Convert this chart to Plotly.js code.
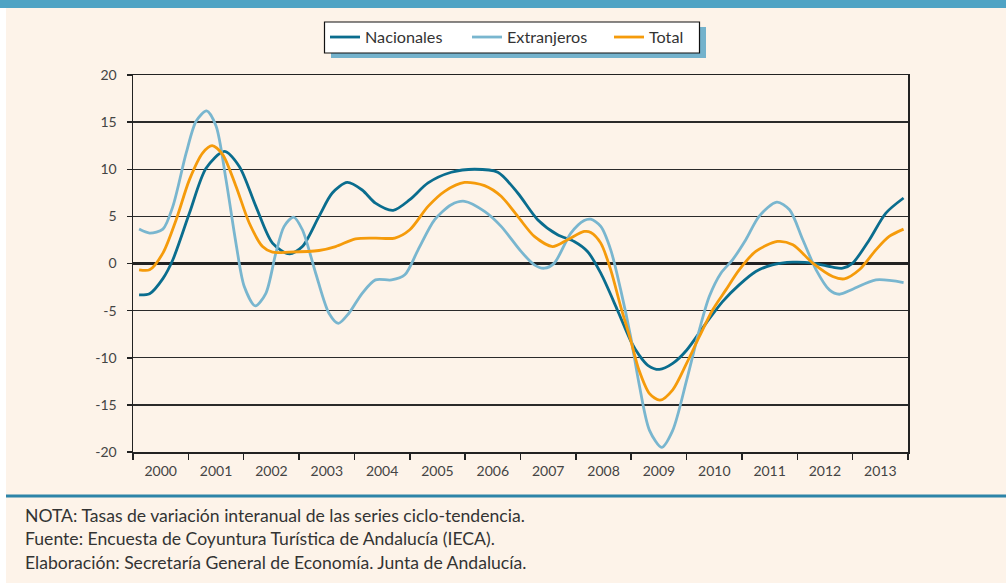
<!DOCTYPE html>
<html>
<head>
<meta charset="utf-8">
<script src="https://cdn.plot.ly/plotly-3.0.1.min.js"></script>
<style>
  html, body { margin: 0; padding: 0; background: #ffffff; }
  #chart { width: 1006px; height: 583px; }
</style>
</head>
<body>
<div id="chart"></div>
<script>
// ---- Data ----
var yearLabels = ["2000","2001","2002","2003","2004","2005","2006","2007","2008","2009","2010","2011","2012","2013"];
var yTickVals = [-20, -15, -10, -5, 0, 5, 10, 15, 20];
var yTickText = ["-20", "-15", "-10", "-5", "0", "5", "10", "15", "20"];

var nacionalesT = [2000.11, 2000.30, 2000.54, 2000.72, 2001.02, 2001.32, 2001.65, 2001.92, 2002.22, 2002.52, 2002.82, 2003.06, 2003.36, 2003.60, 2003.87, 2004.14, 2004.38, 2004.70, 2005.00, 2005.33, 2005.75, 2006.17, 2006.59, 2006.95, 2007.31, 2007.67, 2007.97, 2008.21, 2008.45, 2008.75, 2008.99, 2009.14, 2009.30, 2009.51, 2009.75, 2010.00, 2010.35, 2010.65, 2010.95, 2011.25, 2011.55, 2011.92, 2012.28, 2012.64, 2012.82, 2013.00, 2013.30, 2013.60, 2013.92];
var nacionalesV = [-3.33, -3.2, -1.6, 0.4, 5.35, 10.1, 11.9, 10.3, 6.06, 2.16, 1.03, 1.8, 5.0, 7.48, 8.6, 7.8, 6.4, 5.64, 6.77, 8.55, 9.68, 10.0, 9.68, 7.48, 4.65, 3.05, 2.34, 1.28, -1.03, -4.93, -8.2, -9.7, -10.8, -11.24, -10.6, -9.2, -6.35, -4.04, -2.27, -0.85, -0.14, 0.14, 0.04, -0.39, -0.5, 0.04, 2.5, 5.35, 6.95];

var extranjerosT = [2000.11, 2000.30, 2000.54, 2000.72, 2000.96, 2001.14, 2001.33, 2001.50, 2001.68, 2001.86, 2002.01, 2002.21, 2002.40, 2002.58, 2002.73, 2002.90, 2003.06, 2003.30, 2003.54, 2003.71, 2003.90, 2004.14, 2004.38, 2004.67, 2004.91, 2005.15, 2005.45, 2005.75, 2005.99, 2006.35, 2006.65, 2007.01, 2007.25, 2007.43, 2007.61, 2007.91, 2008.15, 2008.27, 2008.45, 2008.63, 2008.81, 2008.99, 2009.14, 2009.33, 2009.55, 2009.75, 2010.00, 2010.23, 2010.41, 2010.62, 2010.83, 2011.07, 2011.31, 2011.63, 2011.86, 2012.10, 2012.34, 2012.58, 2012.76, 2013.00, 2013.42, 2013.92];
var extranjerosV = [3.65, 3.23, 3.65, 6.06, 11.7, 15.1, 16.2, 14.6, 8.9, 2.16, -2.45, -4.5, -3.16, 1.1, 3.94, 4.93, 3.58, -1.03, -5.28, -6.35, -5.28, -3.16, -1.74, -1.74, -1.2, 1.45, 4.65, 6.24, 6.6, 5.53, 3.94, 1.28, -0.14, -0.5, 0.04, 3.23, 4.57, 4.7, 3.94, 1.45, -2.8, -7.77, -12.7, -17.7, -19.5, -17.7, -12.4, -7.06, -3.51, -1.03, 0.39, 2.52, 5.0, 6.52, 5.7, 2.52, -0.67, -2.8, -3.26, -2.73, -1.74, -2.02];

var totalT = [2000.11, 2000.30, 2000.54, 2000.78, 2001.02, 2001.26, 2001.43, 2001.62, 2001.86, 2002.10, 2002.34, 2002.52, 2002.82, 2003.36, 2003.66, 2004.02, 2004.38, 2004.73, 2005.00, 2005.33, 2005.63, 2005.99, 2006.35, 2006.65, 2006.95, 2007.25, 2007.58, 2007.85, 2008.15, 2008.27, 2008.45, 2008.63, 2008.81, 2008.99, 2009.14, 2009.33, 2009.52, 2009.75, 2010.00, 2010.23, 2010.47, 2010.71, 2010.95, 2011.25, 2011.64, 2011.92, 2012.28, 2012.64, 2012.85, 2013.12, 2013.42, 2013.66, 2013.92];
var totalV = [-0.67, -0.67, 1.1, 4.65, 8.9, 11.74, 12.5, 11.56, 8.2, 4.3, 1.8, 1.2, 1.2, 1.38, 1.8, 2.62, 2.7, 2.7, 3.58, 6.06, 7.66, 8.6, 8.26, 7.13, 5.0, 2.87, 1.8, 2.52, 3.4, 3.3, 2.16, -0.67, -4.57, -8.12, -11.3, -13.8, -14.5, -13.4, -10.6, -7.77, -4.93, -2.8, -0.67, 1.28, 2.34, 1.99, 0.04, -1.38, -1.63, -0.67, 1.45, 2.87, 3.65];

var notes = [
  "NOTA: Tasas de variación interanual de las series ciclo-tendencia.",
  "Fuente: Encuesta de Coyuntura Turística de Andalucía (IECA).",
  "Elaboración: Secretaría General de Economía. Junta de Andalucía."
];

// ---- Layout helpers (pixel -> paper) ----
var W = 1006, H = 583;
var mL = 133, mR = 98, mT = 75, mB = 131;
var pw = W - mL - mR, ph = H - mT - mB;
function px(x) { return (x - mL) / pw; }
function py(y) { return (H - mB - y) / ph; }

var FONT = "Lato, 'Open Sans', sans-serif";
var cream = "#fdf3e9";

var yearMid = yearLabels.map(function (s) { return Number(s) + 0.5; });
var yearEdges = yearLabels.map(function (s) { return Number(s); }).concat([Number(yearLabels[yearLabels.length - 1]) + 1]);

function series(name, t, v, color) {
  return {
    type: "scatter", mode: "lines", name: name, x: t, y: v,
    line: { color: color, width: 2.8, shape: "spline", smoothing: 0.8 },
    hoverinfo: "skip"
  };
}

var data = [
  series("Nacionales", nacionalesT, nacionalesV, "#0a6d8e"),
  series("Extranjeros", extranjerosT, extranjerosV, "#79b6cf"),
  series("Total", totalT, totalV, "#f59b0b")
];

var annotations = notes.map(function (txt, i) {
  return {
    xref: "paper", yref: "paper", x: px(23), y: py(515 + i * 23.5),
    xanchor: "left", yanchor: "middle", showarrow: false, align: "left",
    text: txt, font: { family: FONT, size: 17.6, color: "#333333" }
  };
});

var shapes = [
  // top band
  { type: "rect", xref: "paper", yref: "paper", x0: px(0), x1: px(W), y0: py(0), y1: py(8),
    fillcolor: "#4fa3c4", line: { width: 0 }, layer: "below" },
  // left white strip
  { type: "rect", xref: "paper", yref: "paper", x0: px(0), x1: px(6), y0: py(8), y1: py(H),
    fillcolor: "#ffffff", line: { width: 0 }, layer: "below" },
  // separator line above notes
  { type: "line", xref: "paper", yref: "paper", x0: px(6), x1: px(W), y0: py(496), y1: py(496),
    line: { color: "#2d84a8", width: 3 } },
  // legend shadow
  { type: "rect", xref: "paper", yref: "paper", x0: px(331), x1: px(706), y0: py(58), y1: py(27),
    fillcolor: "#74b2cc", line: { width: 0 } },
  // legend box
  { type: "rect", xref: "paper", yref: "paper", x0: px(324.5), x1: px(699.5), y0: py(53), y1: py(22),
    fillcolor: "#ffffff", line: { color: "#111111", width: 1.2 } }
];

var layout = {
  width: W, height: H,
  margin: { l: mL, r: mR, t: mT, b: mB, pad: 0 },
  paper_bgcolor: cream, plot_bgcolor: cream,
  font: { family: FONT, color: "#333333", size: 14 },
  showlegend: true,
  legend: {
    orientation: "h", x: px(325), xanchor: "left", y: py(20), yanchor: "top",
    bgcolor: "rgba(0,0,0,0)", borderwidth: 0,
    font: { family: FONT, size: 16.2, color: "#333333" },
    entrywidth: 97, itemwidth: 30, traceorder: "normal"
  },
  xaxis: {
    type: "linear", range: [2000, 2014], fixedrange: true,
    tickmode: "array", tickvals: yearMid, ticktext: yearLabels,
    ticks: "", showgrid: false, zeroline: false,
    showline: true, linecolor: "#222222", linewidth: 1.5, mirror: true,
    tickfont: { family: FONT, size: 14, color: "#444444" },
    ticklabelstandoff: 6,
    minor: { tickmode: "array", tickvals: yearEdges, ticks: "outside", ticklen: 6, tickwidth: 1.5, tickcolor: "#222222", showgrid: false }
  },
  yaxis: {
    range: [-20, 20], fixedrange: true, tickmode: "array",
    tickvals: yTickVals, ticktext: yTickText,
    ticks: "outside", ticklen: 5, tickwidth: 1.5, tickcolor: "#222222",
    showgrid: true, gridcolor: "#2a2a2a", gridwidth: 1.3,
    zeroline: true, zerolinecolor: "#222222", zerolinewidth: 2.8,
    showline: true, linecolor: "#222222", linewidth: 1.5, mirror: true,
    tickfont: { family: FONT, size: 14, color: "#444444" },
    ticklabelstandoff: 7
  },
  shapes: shapes,
  annotations: annotations
};

Plotly.newPlot("chart", data, layout, { staticPlot: true, displayModeBar: false });
</script>
</body>
</html>
